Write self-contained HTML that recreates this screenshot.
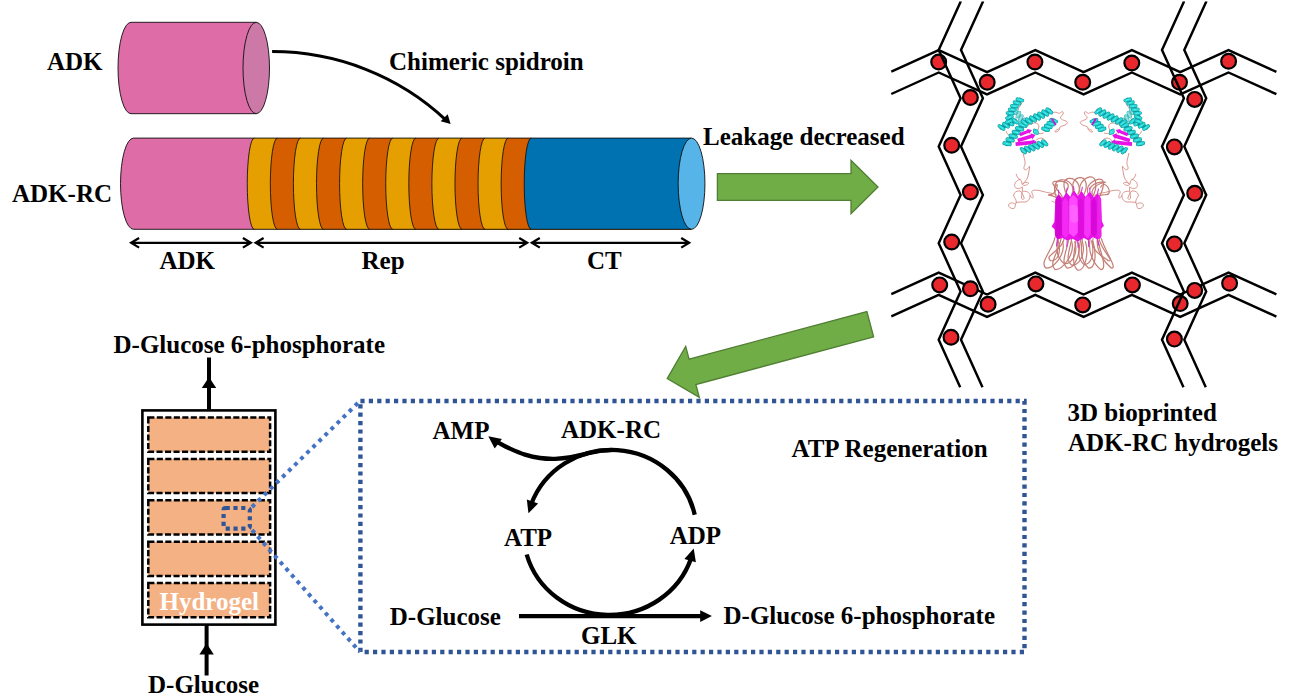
<!DOCTYPE html>
<html><head><meta charset="utf-8"><title>ADK-RC hydrogel ATP regeneration</title>
<style>
html,body{margin:0;padding:0;background:#fff;}
body{width:1299px;height:700px;overflow:hidden;}
svg{display:block;}
text{font-family:"Liberation Serif","Times New Roman",serif;font-weight:bold;}
</style></head><body>
<svg width="1299" height="700" viewBox="0 0 1299 700">
<rect width="1299" height="700" fill="#fff"/>
<path d="M131,22.299999999999997 L256.25,22.299999999999997 L256.25,113.7 L131,113.7 A13,45.7 0 0 1 131,22.299999999999997 Z" fill="#DD6CA7" stroke="#0d0d0d" stroke-width="0.9"/>
<ellipse cx="256.25" cy="68.0" rx="13.25" ry="45.7" fill="#CC79A7" stroke="#0d0d0d" stroke-width="0.9"/>
<path d="M133.5,138.1 L691.25,138.1 L691.25,229.29999999999998 L133.5,229.29999999999998 A13,45.6 0 0 1 133.5,138.1 Z" fill="#DD6CA7"/>
<path d="M254.25,138.1 L691.25,138.1 L691.25,229.29999999999998 L254.25,229.29999999999998 A7,45.6 0 0 1 254.25,138.1 Z" fill="#E69F00"/>
<path d="M254.25,229.29999999999998 A7,45.6 0 0 1 254.25,138.1" fill="none" stroke="#0d0d0d" stroke-width="0.85"/>
<path d="M277.33,138.1 L691.25,138.1 L691.25,229.29999999999998 L277.33,229.29999999999998 A7,45.6 0 0 1 277.33,138.1 Z" fill="#D55E00"/>
<path d="M277.33,229.29999999999998 A7,45.6 0 0 1 277.33,138.1" fill="none" stroke="#0d0d0d" stroke-width="0.85"/>
<path d="M300.40999999999997,138.1 L691.25,138.1 L691.25,229.29999999999998 L300.40999999999997,229.29999999999998 A7,45.6 0 0 1 300.40999999999997,138.1 Z" fill="#E69F00"/>
<path d="M300.40999999999997,229.29999999999998 A7,45.6 0 0 1 300.40999999999997,138.1" fill="none" stroke="#0d0d0d" stroke-width="0.85"/>
<path d="M323.49,138.1 L691.25,138.1 L691.25,229.29999999999998 L323.49,229.29999999999998 A7,45.6 0 0 1 323.49,138.1 Z" fill="#D55E00"/>
<path d="M323.49,229.29999999999998 A7,45.6 0 0 1 323.49,138.1" fill="none" stroke="#0d0d0d" stroke-width="0.85"/>
<path d="M346.57,138.1 L691.25,138.1 L691.25,229.29999999999998 L346.57,229.29999999999998 A7,45.6 0 0 1 346.57,138.1 Z" fill="#E69F00"/>
<path d="M346.57,229.29999999999998 A7,45.6 0 0 1 346.57,138.1" fill="none" stroke="#0d0d0d" stroke-width="0.85"/>
<path d="M369.65,138.1 L691.25,138.1 L691.25,229.29999999999998 L369.65,229.29999999999998 A7,45.6 0 0 1 369.65,138.1 Z" fill="#D55E00"/>
<path d="M369.65,229.29999999999998 A7,45.6 0 0 1 369.65,138.1" fill="none" stroke="#0d0d0d" stroke-width="0.85"/>
<path d="M392.73,138.1 L691.25,138.1 L691.25,229.29999999999998 L392.73,229.29999999999998 A7,45.6 0 0 1 392.73,138.1 Z" fill="#E69F00"/>
<path d="M392.73,229.29999999999998 A7,45.6 0 0 1 392.73,138.1" fill="none" stroke="#0d0d0d" stroke-width="0.85"/>
<path d="M415.81,138.1 L691.25,138.1 L691.25,229.29999999999998 L415.81,229.29999999999998 A7,45.6 0 0 1 415.81,138.1 Z" fill="#D55E00"/>
<path d="M415.81,229.29999999999998 A7,45.6 0 0 1 415.81,138.1" fill="none" stroke="#0d0d0d" stroke-width="0.85"/>
<path d="M438.89,138.1 L691.25,138.1 L691.25,229.29999999999998 L438.89,229.29999999999998 A7,45.6 0 0 1 438.89,138.1 Z" fill="#E69F00"/>
<path d="M438.89,229.29999999999998 A7,45.6 0 0 1 438.89,138.1" fill="none" stroke="#0d0d0d" stroke-width="0.85"/>
<path d="M461.96999999999997,138.1 L691.25,138.1 L691.25,229.29999999999998 L461.96999999999997,229.29999999999998 A7,45.6 0 0 1 461.96999999999997,138.1 Z" fill="#D55E00"/>
<path d="M461.96999999999997,229.29999999999998 A7,45.6 0 0 1 461.96999999999997,138.1" fill="none" stroke="#0d0d0d" stroke-width="0.85"/>
<path d="M485.04999999999995,138.1 L691.25,138.1 L691.25,229.29999999999998 L485.04999999999995,229.29999999999998 A7,45.6 0 0 1 485.04999999999995,138.1 Z" fill="#E69F00"/>
<path d="M485.04999999999995,229.29999999999998 A7,45.6 0 0 1 485.04999999999995,138.1" fill="none" stroke="#0d0d0d" stroke-width="0.85"/>
<path d="M508.13,138.1 L691.25,138.1 L691.25,229.29999999999998 L508.13,229.29999999999998 A7,45.6 0 0 1 508.13,138.1 Z" fill="#D55E00"/>
<path d="M508.13,229.29999999999998 A7,45.6 0 0 1 508.13,138.1" fill="none" stroke="#0d0d0d" stroke-width="0.85"/>
<path d="M531.21,138.1 L691.25,138.1 L691.25,229.29999999999998 L531.21,229.29999999999998 A7,45.6 0 0 1 531.21,138.1 Z" fill="#0072B2"/>
<path d="M531.21,229.29999999999998 A7,45.6 0 0 1 531.21,138.1" fill="none" stroke="#0d0d0d" stroke-width="0.85"/>
<path d="M691.25,138.1 L133.5,138.1 A13,45.6 0 0 0 133.5,229.29999999999998 L691.25,229.29999999999998" fill="none" stroke="#0d0d0d" stroke-width="0.9"/>
<ellipse cx="691.55" cy="183.7" rx="13.4" ry="45.6" fill="#56B4E9" stroke="#0d0d0d" stroke-width="0.9"/>
<path d="M131.1,242.8 L250.9,242.8 M139.1,238.0 L131.1,242.8 L139.1,247.60000000000002 M242.9,238.0 L250.9,242.8 L242.9,247.60000000000002" fill="none" stroke="#000" stroke-width="2.2" stroke-linejoin="miter"/>
<path d="M255.6,242.8 L527.1999999999999,242.8 M263.6,238.0 L255.6,242.8 L263.6,247.60000000000002 M519.1999999999999,238.0 L527.1999999999999,242.8 L519.1999999999999,247.60000000000002" fill="none" stroke="#000" stroke-width="2.2" stroke-linejoin="miter"/>
<path d="M531.8000000000001,242.8 L689.1999999999999,242.8 M539.8000000000001,238.0 L531.8000000000001,242.8 L539.8000000000001,247.60000000000002 M681.1999999999999,238.0 L689.1999999999999,242.8 L681.1999999999999,247.60000000000002" fill="none" stroke="#000" stroke-width="2.2" stroke-linejoin="miter"/>
<path d="M272.1,51.6 A250,243 0 0 1 445.7,119.8" fill="none" stroke="#000" stroke-width="3"/>
<path d="M450.6,124.1 L440.7,121.3 L447.7,114.2 Z" fill="#000"/>
<polygon points="717.4,173.6 851.0,173.6 851.0,160.2 878.0,187.0 851.0,213.8 851.0,200.4 717.4,200.4" fill="#70AD47" stroke="#507E32" stroke-width="1.3" stroke-linejoin="miter"/>
<polygon points="873.6,336.9 695.9,384.5 699.3,397.3 667.2,378.6 685.7,346.4 689.1,359.2 866.9,311.6" fill="#70AD47" stroke="#507E32" stroke-width="1.3" stroke-linejoin="miter"/>
<polyline points="891.3,71.7 938.7,50.2 987.0,72.1 1035.3,50.2 1083.6,72.1 1131.9,50.2 1180.2,72.1 1228.5,50.2 1276.4,71.9" fill="none" stroke="#000" stroke-width="2.45" stroke-linejoin="miter"/>
<polyline points="891.3,94.0 938.7,72.5 987.0,94.4 1035.3,72.5 1083.6,94.4 1131.9,72.5 1180.2,94.4 1228.5,72.5 1276.4,94.2" fill="none" stroke="#000" stroke-width="2.45" stroke-linejoin="miter"/>
<polyline points="891.3,294.1 938.7,272.6 987.0,294.5 1035.3,272.6 1083.6,294.5 1131.9,272.6 1180.2,294.5 1228.5,272.6 1276.4,294.3" fill="none" stroke="#000" stroke-width="2.45" stroke-linejoin="miter"/>
<polyline points="891.3,316.4 938.7,294.9 987.0,316.8 1035.3,294.9 1083.6,316.8 1131.9,294.9 1180.2,316.8 1228.5,294.9 1276.4,316.6" fill="none" stroke="#000" stroke-width="2.45" stroke-linejoin="miter"/>
<circle cx="938.7" cy="62" r="7.4" fill="#E8282C" stroke="#000" stroke-width="2.2"/>
<circle cx="987.2" cy="82.3" r="7.4" fill="#E8282C" stroke="#000" stroke-width="2.2"/>
<circle cx="1034.9" cy="62" r="7.4" fill="#E8282C" stroke="#000" stroke-width="2.2"/>
<circle cx="1082.7" cy="82.3" r="7.4" fill="#E8282C" stroke="#000" stroke-width="2.2"/>
<circle cx="1131.8" cy="63" r="7.4" fill="#E8282C" stroke="#000" stroke-width="2.2"/>
<circle cx="1179.5" cy="82.3" r="7.4" fill="#E8282C" stroke="#000" stroke-width="2.2"/>
<circle cx="1228.6" cy="61.3" r="7.4" fill="#E8282C" stroke="#000" stroke-width="2.2"/>
<circle cx="939.7" cy="284.9" r="7.4" fill="#E8282C" stroke="#000" stroke-width="2.2"/>
<circle cx="988.1" cy="304.3" r="7.4" fill="#E8282C" stroke="#000" stroke-width="2.2"/>
<circle cx="1035.9" cy="283.9" r="7.4" fill="#E8282C" stroke="#000" stroke-width="2.2"/>
<circle cx="1082.7" cy="304.9" r="7.4" fill="#E8282C" stroke="#000" stroke-width="2.2"/>
<circle cx="1132.4" cy="284.9" r="7.4" fill="#E8282C" stroke="#000" stroke-width="2.2"/>
<circle cx="1180.2" cy="303.6" r="7.4" fill="#E8282C" stroke="#000" stroke-width="2.2"/>
<circle cx="1229.6" cy="283.3" r="7.4" fill="#E8282C" stroke="#000" stroke-width="2.2"/>
<polyline points="960.6,1.6 960.6,1.7 938.7,50.0 960.6,98.3 938.7,146.6 960.6,194.9 938.7,243.2 960.6,291.5 938.7,339.8 960.2,387.3" fill="none" stroke="#000" stroke-width="2.45" stroke-linejoin="miter"/>
<polyline points="982.9,1.6 982.9,1.7 961.0,50.0 982.9,98.3 961.0,146.6 982.9,194.9 961.0,243.2 982.9,291.5 961.0,339.8 982.5,387.3" fill="none" stroke="#000" stroke-width="2.45" stroke-linejoin="miter"/>
<polyline points="1183.9,1.6 1183.9,1.7 1162.0,50.0 1183.9,98.3 1162.0,146.6 1183.9,194.9 1162.0,243.2 1183.9,291.5 1162.0,339.8 1183.5,387.3" fill="none" stroke="#000" stroke-width="2.45" stroke-linejoin="miter"/>
<polyline points="1206.2,1.6 1206.2,1.7 1184.3,50.0 1206.2,98.3 1184.3,146.6 1206.2,194.9 1184.3,243.2 1206.2,291.5 1184.3,339.8 1205.8,387.3" fill="none" stroke="#000" stroke-width="2.45" stroke-linejoin="miter"/>
<circle cx="970.4" cy="97.5" r="7.4" fill="#E8282C" stroke="#000" stroke-width="2.2"/>
<circle cx="951.7" cy="145.3" r="7.4" fill="#E8282C" stroke="#000" stroke-width="2.2"/>
<circle cx="970.4" cy="192" r="7.4" fill="#E8282C" stroke="#000" stroke-width="2.2"/>
<circle cx="951.7" cy="242" r="7.4" fill="#E8282C" stroke="#000" stroke-width="2.2"/>
<circle cx="970.4" cy="288.8" r="7.4" fill="#E8282C" stroke="#000" stroke-width="2.2"/>
<circle cx="951" cy="337.2" r="7.4" fill="#E8282C" stroke="#000" stroke-width="2.2"/>
<circle cx="1194.7" cy="99.4" r="7.4" fill="#E8282C" stroke="#000" stroke-width="2.2"/>
<circle cx="1174.4" cy="146.9" r="7.4" fill="#E8282C" stroke="#000" stroke-width="2.2"/>
<circle cx="1194.7" cy="193.3" r="7.4" fill="#E8282C" stroke="#000" stroke-width="2.2"/>
<circle cx="1174.4" cy="243.9" r="7.4" fill="#E8282C" stroke="#000" stroke-width="2.2"/>
<circle cx="1194.7" cy="290.4" r="7.4" fill="#E8282C" stroke="#000" stroke-width="2.2"/>
<circle cx="1174.4" cy="339.1" r="7.4" fill="#E8282C" stroke="#000" stroke-width="2.2"/>
<g transform="translate(995,95) scale(0.0928)"><path d="M600,200 C630,180 660,180 690,200 C710,190 725,170 735,185 C745,215 700,225 705,250 C730,280 785,275 780,300 C770,330 720,330 700,345 C700,380 670,400 650,400 C640,385 670,370 690,365" fill="none" stroke="#D68F88" stroke-width="10" stroke-linecap="round" stroke-linejoin="round"/><path d="M330,330 C380,320 420,290 450,305 C490,325 470,360 450,400 C470,420 500,420 520,410" fill="none" stroke="#D68F88" stroke-width="10" stroke-linecap="round" stroke-linejoin="round"/><path d="M440,490 C470,455 520,455 540,490" fill="none" stroke="#D68F88" stroke-width="10" stroke-linecap="round" stroke-linejoin="round"/><path d="M120,390 C130,420 150,445 195,455" fill="none" stroke="#D68F88" stroke-width="10" stroke-linecap="round" stroke-linejoin="round"/><path d="M240,160 C260,130 280,110 290,80" fill="none" stroke="#D68F88" stroke-width="10" stroke-linecap="round" stroke-linejoin="round"/><path d="M225,175 L305,285" fill="none" stroke="#4FB8BA" stroke-width="45" stroke-linecap="round" stroke-linejoin="round"/><path d="M237,153 L213,197 M263,189 L240,234 M290,226 L267,271 M317,263 L293,307" fill="none" stroke="#4FB8BA" stroke-width="38" stroke-linecap="round"/><path d="M237,153 L213,197 M263,189 L240,234 M290,226 L267,271 M317,263 L293,307" fill="none" stroke="#86DCDC" stroke-width="25" stroke-linecap="round"/><path d="M228,168 L219,186 M255,205 L246,223 M282,242 L273,259 M308,278 L299,296" fill="none" stroke="#B0ECEC" stroke-width="7" stroke-linecap="round"/><path d="M70,350 L140,315 L215,280" fill="none" stroke="#109C9E" stroke-width="49" stroke-linecap="round" stroke-linejoin="round"/><path d="M48,334 L92,366 M96,310 L140,342 M145,286 L188,319 M194,263 L236,297" fill="none" stroke="#109C9E" stroke-width="40" stroke-linecap="round"/><path d="M48,334 L92,366 M96,310 L140,342 M145,286 L188,319 M194,263 L236,297" fill="none" stroke="#27DADA" stroke-width="27" stroke-linecap="round"/><path d="M64,345 L81,358 M112,321 L129,334 M160,298 L177,311 M209,275 L226,288" fill="none" stroke="#6FF2F2" stroke-width="8" stroke-linecap="round"/><path d="M150,285 L160,200 L215,110 L268,52" fill="none" stroke="#109C9E" stroke-width="49" stroke-linecap="round" stroke-linejoin="round"/><path d="M125,294 L175,276 M130,250 L181,231 M135,194 L189,199 M159,156 L213,160 M182,117 L236,122 M212,78 L264,93 M242,45 L294,59" fill="none" stroke="#109C9E" stroke-width="40" stroke-linecap="round"/><path d="M125,294 L175,276 M130,250 L181,231 M135,194 L189,199 M159,156 L213,160 M182,117 L236,122 M212,78 L264,93 M242,45 L294,59" fill="none" stroke="#27DADA" stroke-width="27" stroke-linecap="round"/><path d="M142,288 L163,280 M148,243 L168,236 M154,196 L176,197 M178,157 L199,159 M201,119 L223,121 M230,83 L251,89 M260,50 L281,56" fill="none" stroke="#6FF2F2" stroke-width="8" stroke-linecap="round"/><path d="M130,525 L215,420 L300,325" fill="none" stroke="#109C9E" stroke-width="52" stroke-linecap="round" stroke-linejoin="round"/><path d="M102,519 L158,531 M135,478 L191,490 M168,437 L224,450 M202,396 L258,411 M237,357 L293,372 M272,317 L328,333" fill="none" stroke="#109C9E" stroke-width="44" stroke-linecap="round"/><path d="M102,519 L158,531 M135,478 L191,490 M168,437 L224,450 M202,396 L258,411 M237,357 L293,372 M272,317 L328,333" fill="none" stroke="#27DADA" stroke-width="29" stroke-linecap="round"/><path d="M122,523 L144,528 M155,482 L177,487 M188,441 L210,446 M222,401 L244,407 M257,362 L279,368 M292,323 L314,329" fill="none" stroke="#6FF2F2" stroke-width="8" stroke-linecap="round"/><path d="M320,300 L400,262 L500,215 L585,172" fill="none" stroke="#109C9E" stroke-width="50" stroke-linecap="round" stroke-linejoin="round"/><path d="M298,283 L342,317 M342,262 L386,296 M387,241 L431,275 M431,220 L475,254 M475,199 L519,234 M519,177 L564,211 M563,155 L607,189" fill="none" stroke="#109C9E" stroke-width="42" stroke-linecap="round"/><path d="M298,283 L342,317 M342,262 L386,296 M387,241 L431,275 M431,220 L475,254 M475,199 L519,234 M519,177 L564,211 M563,155 L607,189" fill="none" stroke="#27DADA" stroke-width="28" stroke-linecap="round"/><path d="M313,295 L331,309 M358,274 L375,288 M402,253 L420,267 M446,232 L464,246 M491,211 L508,225 M534,189 L552,202 M578,167 L596,180" fill="none" stroke="#6FF2F2" stroke-width="8" stroke-linecap="round"/><path d="M545,370 L632,278" fill="none" stroke="#109C9E" stroke-width="50" stroke-linecap="round" stroke-linejoin="round"/><path d="M518,362 L572,378 M547,331 L601,347 M576,301 L630,317 M605,270 L659,286" fill="none" stroke="#109C9E" stroke-width="42" stroke-linecap="round"/><path d="M518,362 L572,378 M547,331 L601,347 M576,301 L630,317 M605,270 L659,286" fill="none" stroke="#27DADA" stroke-width="28" stroke-linecap="round"/><path d="M537,368 L558,374 M566,337 L587,343 M595,306 L616,313 M624,276 L645,282" fill="none" stroke="#6FF2F2" stroke-width="8" stroke-linecap="round"/><path d="M425,392 L455,402" fill="none" stroke="#109C9E" stroke-width="31" stroke-linecap="round" stroke-linejoin="round"/><path d="M423,375 L427,409 M438,380 L442,414 M453,385 L457,419" fill="none" stroke="#109C9E" stroke-width="26" stroke-linecap="round"/><path d="M423,375 L427,409 M438,380 L442,414 M453,385 L457,419" fill="none" stroke="#27DADA" stroke-width="17" stroke-linecap="round"/><path d="M424,387 L426,400 M439,392 L441,405 M454,397 L456,410" fill="none" stroke="#6FF2F2" stroke-width="5" stroke-linecap="round"/><polygon points="224,550 409,531 411,544 452,506 404,477 405,491 220,510" fill="#E612E6"/><polygon points="251,509 399,464 403,478 436,432 383,413 387,426 239,471" fill="#E612E6"/><polygon points="274,444 363,408 367,420 398,376 345,366 350,377 262,412" fill="#E612E6"/><polygon points="663,320 630,268 635,265 605,245 610,281 615,278 647,330" fill="#D010D0"/><path d="M305,600 L420,560 L535,515" fill="none" stroke="#109C9E" stroke-width="49" stroke-linecap="round" stroke-linejoin="round"/><path d="M286,581 L324,619 M332,565 L371,603 M378,549 L417,587 M424,533 L464,569 M469,515 L509,551 M515,497 L555,533" fill="none" stroke="#109C9E" stroke-width="40" stroke-linecap="round"/><path d="M286,581 L324,619 M332,565 L371,603 M378,549 L417,587 M424,533 L464,569 M469,515 L509,551 M515,497 L555,533" fill="none" stroke="#27DADA" stroke-width="27" stroke-linecap="round"/><path d="M299,594 L315,609 M346,578 L361,593 M392,562 L407,577 M438,545 L454,560 M483,527 L499,542 M529,510 L545,524" fill="none" stroke="#6FF2F2" stroke-width="8" stroke-linecap="round"/></g>
<g transform="translate(1152.6,95) scale(-0.0928,0.0928)"><path d="M600,200 C630,180 660,180 690,200 C710,190 725,170 735,185 C745,215 700,225 705,250 C730,280 785,275 780,300 C770,330 720,330 700,345 C700,380 670,400 650,400 C640,385 670,370 690,365" fill="none" stroke="#D68F88" stroke-width="10" stroke-linecap="round" stroke-linejoin="round"/><path d="M330,330 C380,320 420,290 450,305 C490,325 470,360 450,400 C470,420 500,420 520,410" fill="none" stroke="#D68F88" stroke-width="10" stroke-linecap="round" stroke-linejoin="round"/><path d="M440,490 C470,455 520,455 540,490" fill="none" stroke="#D68F88" stroke-width="10" stroke-linecap="round" stroke-linejoin="round"/><path d="M120,390 C130,420 150,445 195,455" fill="none" stroke="#D68F88" stroke-width="10" stroke-linecap="round" stroke-linejoin="round"/><path d="M240,160 C260,130 280,110 290,80" fill="none" stroke="#D68F88" stroke-width="10" stroke-linecap="round" stroke-linejoin="round"/><path d="M225,175 L305,285" fill="none" stroke="#4FB8BA" stroke-width="45" stroke-linecap="round" stroke-linejoin="round"/><path d="M237,153 L213,197 M263,189 L240,234 M290,226 L267,271 M317,263 L293,307" fill="none" stroke="#4FB8BA" stroke-width="38" stroke-linecap="round"/><path d="M237,153 L213,197 M263,189 L240,234 M290,226 L267,271 M317,263 L293,307" fill="none" stroke="#86DCDC" stroke-width="25" stroke-linecap="round"/><path d="M228,168 L219,186 M255,205 L246,223 M282,242 L273,259 M308,278 L299,296" fill="none" stroke="#B0ECEC" stroke-width="7" stroke-linecap="round"/><path d="M70,350 L140,315 L215,280" fill="none" stroke="#109C9E" stroke-width="49" stroke-linecap="round" stroke-linejoin="round"/><path d="M48,334 L92,366 M96,310 L140,342 M145,286 L188,319 M194,263 L236,297" fill="none" stroke="#109C9E" stroke-width="40" stroke-linecap="round"/><path d="M48,334 L92,366 M96,310 L140,342 M145,286 L188,319 M194,263 L236,297" fill="none" stroke="#27DADA" stroke-width="27" stroke-linecap="round"/><path d="M64,345 L81,358 M112,321 L129,334 M160,298 L177,311 M209,275 L226,288" fill="none" stroke="#6FF2F2" stroke-width="8" stroke-linecap="round"/><path d="M150,285 L160,200 L215,110 L268,52" fill="none" stroke="#109C9E" stroke-width="49" stroke-linecap="round" stroke-linejoin="round"/><path d="M125,294 L175,276 M130,250 L181,231 M135,194 L189,199 M159,156 L213,160 M182,117 L236,122 M212,78 L264,93 M242,45 L294,59" fill="none" stroke="#109C9E" stroke-width="40" stroke-linecap="round"/><path d="M125,294 L175,276 M130,250 L181,231 M135,194 L189,199 M159,156 L213,160 M182,117 L236,122 M212,78 L264,93 M242,45 L294,59" fill="none" stroke="#27DADA" stroke-width="27" stroke-linecap="round"/><path d="M142,288 L163,280 M148,243 L168,236 M154,196 L176,197 M178,157 L199,159 M201,119 L223,121 M230,83 L251,89 M260,50 L281,56" fill="none" stroke="#6FF2F2" stroke-width="8" stroke-linecap="round"/><path d="M130,525 L215,420 L300,325" fill="none" stroke="#109C9E" stroke-width="52" stroke-linecap="round" stroke-linejoin="round"/><path d="M102,519 L158,531 M135,478 L191,490 M168,437 L224,450 M202,396 L258,411 M237,357 L293,372 M272,317 L328,333" fill="none" stroke="#109C9E" stroke-width="44" stroke-linecap="round"/><path d="M102,519 L158,531 M135,478 L191,490 M168,437 L224,450 M202,396 L258,411 M237,357 L293,372 M272,317 L328,333" fill="none" stroke="#27DADA" stroke-width="29" stroke-linecap="round"/><path d="M122,523 L144,528 M155,482 L177,487 M188,441 L210,446 M222,401 L244,407 M257,362 L279,368 M292,323 L314,329" fill="none" stroke="#6FF2F2" stroke-width="8" stroke-linecap="round"/><path d="M320,300 L400,262 L500,215 L585,172" fill="none" stroke="#109C9E" stroke-width="50" stroke-linecap="round" stroke-linejoin="round"/><path d="M298,283 L342,317 M342,262 L386,296 M387,241 L431,275 M431,220 L475,254 M475,199 L519,234 M519,177 L564,211 M563,155 L607,189" fill="none" stroke="#109C9E" stroke-width="42" stroke-linecap="round"/><path d="M298,283 L342,317 M342,262 L386,296 M387,241 L431,275 M431,220 L475,254 M475,199 L519,234 M519,177 L564,211 M563,155 L607,189" fill="none" stroke="#27DADA" stroke-width="28" stroke-linecap="round"/><path d="M313,295 L331,309 M358,274 L375,288 M402,253 L420,267 M446,232 L464,246 M491,211 L508,225 M534,189 L552,202 M578,167 L596,180" fill="none" stroke="#6FF2F2" stroke-width="8" stroke-linecap="round"/><path d="M545,370 L632,278" fill="none" stroke="#109C9E" stroke-width="50" stroke-linecap="round" stroke-linejoin="round"/><path d="M518,362 L572,378 M547,331 L601,347 M576,301 L630,317 M605,270 L659,286" fill="none" stroke="#109C9E" stroke-width="42" stroke-linecap="round"/><path d="M518,362 L572,378 M547,331 L601,347 M576,301 L630,317 M605,270 L659,286" fill="none" stroke="#27DADA" stroke-width="28" stroke-linecap="round"/><path d="M537,368 L558,374 M566,337 L587,343 M595,306 L616,313 M624,276 L645,282" fill="none" stroke="#6FF2F2" stroke-width="8" stroke-linecap="round"/><path d="M425,392 L455,402" fill="none" stroke="#109C9E" stroke-width="31" stroke-linecap="round" stroke-linejoin="round"/><path d="M423,375 L427,409 M438,380 L442,414 M453,385 L457,419" fill="none" stroke="#109C9E" stroke-width="26" stroke-linecap="round"/><path d="M423,375 L427,409 M438,380 L442,414 M453,385 L457,419" fill="none" stroke="#27DADA" stroke-width="17" stroke-linecap="round"/><path d="M424,387 L426,400 M439,392 L441,405 M454,397 L456,410" fill="none" stroke="#6FF2F2" stroke-width="5" stroke-linecap="round"/><polygon points="224,550 409,531 411,544 452,506 404,477 405,491 220,510" fill="#E612E6"/><polygon points="251,509 399,464 403,478 436,432 383,413 387,426 239,471" fill="#E612E6"/><polygon points="274,444 363,408 367,420 398,376 345,366 350,377 262,412" fill="#E612E6"/><polygon points="663,320 630,268 635,265 605,245 610,281 615,278 647,330" fill="#D010D0"/><path d="M305,600 L420,560 L535,515" fill="none" stroke="#109C9E" stroke-width="49" stroke-linecap="round" stroke-linejoin="round"/><path d="M286,581 L324,619 M332,565 L371,603 M378,549 L417,587 M424,533 L464,569 M469,515 L509,551 M515,497 L555,533" fill="none" stroke="#109C9E" stroke-width="40" stroke-linecap="round"/><path d="M286,581 L324,619 M332,565 L371,603 M378,549 L417,587 M424,533 L464,569 M469,515 L509,551 M515,497 L555,533" fill="none" stroke="#27DADA" stroke-width="27" stroke-linecap="round"/><path d="M299,594 L315,609 M346,578 L361,593 M392,562 L407,577 M438,545 L454,560 M483,527 L499,542 M529,510 L545,524" fill="none" stroke="#6FF2F2" stroke-width="8" stroke-linecap="round"/></g>
<g transform="translate(1000,145) scale(0.0928)"><path d="M250,90 C255,130 275,170 270,205 C262,230 250,245 262,262 C280,280 305,245 320,228 C318,270 305,310 300,345 C290,380 255,405 245,420 C260,400 300,395 308,410 C300,435 260,445 240,425 C230,405 240,385 215,370 C190,360 180,335 175,315" fill="none" stroke="#D68F88" stroke-width="10" stroke-linecap="round" stroke-linejoin="round"/><path d="M215,370 C175,380 150,415 160,450 C180,480 225,470 240,450 C245,480 235,520 232,560 C228,590 250,590 262,575 C250,540 235,510 215,495 C185,490 150,510 145,540 C160,580 180,590 175,620" fill="none" stroke="#D68F88" stroke-width="10" stroke-linecap="round" stroke-linejoin="round"/><path d="M245,500 C280,490 320,510 325,545 C320,590 300,610 270,615 C230,612 200,615 175,620 C160,640 170,670 150,685 C120,690 90,670 92,645 C100,620 140,615 160,635" fill="none" stroke="#D68F88" stroke-width="10" stroke-linecap="round" stroke-linejoin="round"/><path d="M325,545 C350,590 365,570 355,545 C345,520 330,495 360,488 C410,480 450,500 500,510 C550,520 590,520 620,545" fill="none" stroke="#D68F88" stroke-width="10" stroke-linecap="round" stroke-linejoin="round"/><path d="M560,605 C580,615 600,625 615,630" fill="none" stroke="#D68F88" stroke-width="10" stroke-linecap="round" stroke-linejoin="round"/></g>
<g transform="translate(1152,145) scale(-0.0928,0.0928)"><path d="M250,90 C255,130 275,170 270,205 C262,230 250,245 262,262 C280,280 305,245 320,228 C318,270 305,310 300,345 C290,380 255,405 245,420 C260,400 300,395 308,410 C300,435 260,445 240,425 C230,405 240,385 215,370 C190,360 180,335 175,315" fill="none" stroke="#D68F88" stroke-width="10" stroke-linecap="round" stroke-linejoin="round"/><path d="M215,370 C175,380 150,415 160,450 C180,480 225,470 240,450 C245,480 235,520 232,560 C228,590 250,590 262,575 C250,540 235,510 215,495 C185,490 150,510 145,540 C160,580 180,590 175,620" fill="none" stroke="#D68F88" stroke-width="10" stroke-linecap="round" stroke-linejoin="round"/><path d="M245,500 C280,490 320,510 325,545 C320,590 300,610 270,615 C230,612 200,615 175,620 C160,640 170,670 150,685 C120,690 90,670 92,645 C100,620 140,615 160,635" fill="none" stroke="#D68F88" stroke-width="10" stroke-linecap="round" stroke-linejoin="round"/><path d="M325,545 C350,590 365,570 355,545 C345,520 330,495 360,488 C410,480 450,500 500,510 C550,520 590,520 620,545" fill="none" stroke="#D68F88" stroke-width="10" stroke-linecap="round" stroke-linejoin="round"/><path d="M560,605 C580,615 600,625 615,630" fill="none" stroke="#D68F88" stroke-width="10" stroke-linecap="round" stroke-linejoin="round"/></g>
<g transform="translate(1032.2,172.5) scale(0.152,0.147)"><path d="M150,440 C135,530 45,610 90,650 C135,655 225,560 200,470" fill="none" stroke="#C47E76" stroke-width="8" stroke-linecap="round" stroke-linejoin="round"/><path d="M190,450 C175,540 105,620 150,660 C195,665 285,560 260,470" fill="none" stroke="#C47E76" stroke-width="8" stroke-linecap="round" stroke-linejoin="round"/><path d="M240,455 C225,545 185,610 230,650 C275,655 325,560 300,470" fill="none" stroke="#C47E76" stroke-width="8" stroke-linecap="round" stroke-linejoin="round"/><path d="M290,455 C275,545 255,625 300,665 C345,670 375,560 350,470" fill="none" stroke="#C47E76" stroke-width="8" stroke-linecap="round" stroke-linejoin="round"/><path d="M330,455 C315,545 325,610 370,650 C415,655 425,560 400,470" fill="none" stroke="#C47E76" stroke-width="8" stroke-linecap="round" stroke-linejoin="round"/><path d="M380,455 C365,545 405,620 450,660 C495,665 455,550 430,460" fill="none" stroke="#C47E76" stroke-width="8" stroke-linecap="round" stroke-linejoin="round"/><path d="M430,440 C415,530 475,610 520,650 C565,655 480,540 455,450" fill="none" stroke="#C47E76" stroke-width="8" stroke-linecap="round" stroke-linejoin="round"/><path d="M170,450 C155,540 165,580 210,620 C255,625 305,560 280,470" fill="none" stroke="#C47E76" stroke-width="8" stroke-linecap="round" stroke-linejoin="round"/><path d="M260,450 C245,540 215,590 260,630 C305,635 355,560 330,470" fill="none" stroke="#C47E76" stroke-width="8" stroke-linecap="round" stroke-linejoin="round"/><path d="M320,450 C305,540 295,585 340,625 C385,630 415,555 390,465" fill="none" stroke="#C47E76" stroke-width="8" stroke-linecap="round" stroke-linejoin="round"/><path d="M210,450 C195,540 75,560 120,600 C165,605 195,550 170,460" fill="none" stroke="#C47E76" stroke-width="8" stroke-linecap="round" stroke-linejoin="round"/><path d="M400,450 C385,540 455,560 500,600 C545,605 465,545 440,455" fill="none" stroke="#C47E76" stroke-width="8" stroke-linecap="round" stroke-linejoin="round"/><path d="M160,170 C135,110 145,60 190,50 C235,45 290,90 260,150" fill="none" stroke="#C47E76" stroke-width="8" stroke-linecap="round" stroke-linejoin="round"/><path d="M230,160 C205,100 195,50 240,40 C285,35 330,90 300,150" fill="none" stroke="#C47E76" stroke-width="8" stroke-linecap="round" stroke-linejoin="round"/><path d="M280,150 C255,90 265,45 310,35 C355,30 370,90 340,150" fill="none" stroke="#C47E76" stroke-width="8" stroke-linecap="round" stroke-linejoin="round"/><path d="M320,150 C295,90 335,40 380,30 C425,25 430,100 400,160" fill="none" stroke="#C47E76" stroke-width="8" stroke-linecap="round" stroke-linejoin="round"/><path d="M370,150 C345,90 395,55 440,45 C485,40 470,110 440,170" fill="none" stroke="#C47E76" stroke-width="8" stroke-linecap="round" stroke-linejoin="round"/><path d="M200,170 C175,110 105,70 150,60 C195,55 260,60 230,120" fill="none" stroke="#C47E76" stroke-width="8" stroke-linecap="round" stroke-linejoin="round"/><path d="M400,170 C375,110 425,80 470,70 C515,65 410,50 380,110" fill="none" stroke="#C47E76" stroke-width="8" stroke-linecap="round" stroke-linejoin="round"/><path d="M180,200 C155,140 75,160 120,150 C165,145 180,40 150,100" fill="none" stroke="#C47E76" stroke-width="8" stroke-linecap="round" stroke-linejoin="round"/><path d="M420,200 C395,140 445,160 490,150 C535,145 480,40 450,100" fill="none" stroke="#C47E76" stroke-width="8" stroke-linecap="round" stroke-linejoin="round"/><path d="M152,185 L175,150 L200,175 L225,135 L250,165 L275,120 L300,160 L325,125 L350,165 L380,130 L405,170 L430,140 L452,185 L458,330 L472,362 L452,385 L455,440 L430,455 L400,440 L370,462 L340,445 L300,470 L265,450 L230,462 L200,445 L165,455 L150,430 L148,388 L128,368 L146,335 Z" fill="#E614E6"/><path d="M154,180 L172,150 L193,180 L195,425 L176,455 L152,430 Z" fill="#D406D4"/><path d="M199,200 L218,170 L238,200 L240,417 L222,447 L197,422 Z" fill="#F22AF2"/><path d="M244,180 L270,150 L298,180 L300,409 L274,439 L242,414 Z" fill="#FF48FF"/><path d="M304,200 L320,170 L338,200 L340,425 L324,455 L302,430 Z" fill="#DE0EDE"/><path d="M344,180 L362,150 L383,180 L385,417 L366,447 L342,422 Z" fill="#F834F8"/><path d="M389,200 L405,170 L423,200 L425,409 L409,439 L387,414 Z" fill="#D808D8"/><path d="M429,180 L440,150 L454,180 L456,425 L444,455 L427,430 Z" fill="#EE22EE"/><path d="M245,230 C265,215 290,215 300,235 L303,330 C290,345 262,345 250,330 Z" fill="#FF6CFF" opacity="0.7"/><path d="M175,150 L172,120 M225,135 L230,105 M275,120 L272,95 M325,125 L330,100 M380,130 L378,105 M430,140 L436,112 M165,455 L160,500 M230,462 L228,505 M300,470 L302,510 M370,462 L372,505 M430,455 L440,495" fill="none" stroke="#D62AD6" stroke-width="7" stroke-linecap="round" stroke-linejoin="round"/></g>
<rect x="142.4" y="410.4" width="133" height="214.2" fill="#fff" stroke="#000" stroke-width="2.6"/>
<rect x="148.3" y="417.50" width="121.8" height="34.2" fill="#F4B183" stroke="#000" stroke-width="2.5" stroke-dasharray="6.1 2.4"/>
<rect x="148.3" y="458.90" width="121.8" height="34.2" fill="#F4B183" stroke="#000" stroke-width="2.5" stroke-dasharray="6.1 2.4"/>
<rect x="148.3" y="500.30" width="121.8" height="34.2" fill="#F4B183" stroke="#000" stroke-width="2.5" stroke-dasharray="6.1 2.4"/>
<rect x="148.3" y="541.70" width="121.8" height="34.2" fill="#F4B183" stroke="#000" stroke-width="2.5" stroke-dasharray="6.1 2.4"/>
<rect x="148.3" y="583.10" width="121.8" height="34.2" fill="#F4B183" stroke="#000" stroke-width="2.5" stroke-dasharray="6.1 2.4"/>
<path d="M209,357.5 L209,409.5" stroke="#000" stroke-width="4" fill="none"/>
<path d="M209,377 L216.2,388 L201.8,388 Z" fill="#000"/>
<path d="M206.6,625 L206.6,675.5" stroke="#000" stroke-width="4" fill="none"/>
<path d="M206.6,643.3 L213.8,654.5 L199.4,654.5 Z" fill="#000"/>
<rect x="360.4" y="401" width="664.1" height="251" fill="none" stroke="#2F5597" stroke-width="4.4" stroke-dasharray="4.2 4.2"/>
<rect x="223.6" y="508" width="26.2" height="20.6" rx="2" fill="none" stroke="#2F5597" stroke-width="4.2" stroke-dasharray="4.2 3.6"/>
<path d="M252,507 L360,401" fill="none" stroke="#4472C4" stroke-width="4" stroke-dasharray="3.9 4.6"/>
<path d="M252,530 L360,652" fill="none" stroke="#4472C4" stroke-width="4" stroke-dasharray="3.9 4.6"/>
<path d="M694.7,514.8 A85.2,82 0 0 0 531.3,504.0" fill="none" stroke="#000" stroke-width="4.3"/>
<path d="M528.5,513.3 L526.8,499.5 L538.1,503.4 Z" fill="#000"/>
<path d="M526.7,554.5 A86,82.8 0 0 0 691.1,558.3" fill="none" stroke="#000" stroke-width="4.3"/>
<path d="M693.7,548.6 L695.9,562.3 L684.4,558.9 Z" fill="#000"/>
<path d="M519,616.1 L702,616.1" fill="none" stroke="#000" stroke-width="4.3"/>
<path d="M711.9,616.1 L700.2,610.2 L700.2,622 Z" fill="#000"/>
<path d="M612,450.0 C610.0,450.1 604.2,450.2 600,450.8 C595.8,451.4 591.8,452.5 587,453.6 C582.2,454.7 576.3,456.3 571,457.2 C565.7,458.1 560.2,458.7 555,458.8 C549.8,458.9 545.0,458.7 540,458.0 C535.0,457.3 530.0,456.2 525,454.6 C520.0,453.0 514.7,450.7 510,448.6 C505.3,446.5 499.2,442.9 497,441.8" fill="none" stroke="#000" stroke-width="4.3"/>
<path d="M488.3,436.2 L501.9,438.9 L494.7,448.5 Z" fill="#000"/>
<text x="47" y="69.5" fill="#000" font-size="25" text-anchor="start">ADK</text>
<text x="12" y="201.5" fill="#000" font-size="25" text-anchor="start">ADK-RC</text>
<text x="159.5" y="269" fill="#000" font-size="25" text-anchor="start">ADK</text>
<text x="361.5" y="269" fill="#000" font-size="25" text-anchor="start">Rep</text>
<text x="587" y="269" fill="#000" font-size="25" text-anchor="start">CT</text>
<text x="389" y="70.3" fill="#000" font-size="25" text-anchor="start">Chimeric spidroin</text>
<text x="703" y="145.4" fill="#000" font-size="25" text-anchor="start">Leakage decreased</text>
<text x="113.5" y="352.5" fill="#000" font-size="25" text-anchor="start">D-Glucose 6-phosphorate</text>
<text x="159.5" y="609.7" fill="#fff" font-size="25" text-anchor="start">Hydrogel</text>
<text x="148" y="693.1" fill="#000" font-size="25" text-anchor="start">D-Glucose</text>
<text x="432.5" y="438.8" fill="#000" font-size="25" text-anchor="start">AMP</text>
<text x="561" y="437.8" fill="#000" font-size="25" text-anchor="start">ADK-RC</text>
<text x="504" y="545.9" fill="#000" font-size="25" text-anchor="start">ATP</text>
<text x="669.7" y="543.7" fill="#000" font-size="25" text-anchor="start">ADP</text>
<text x="389.8" y="625.4" fill="#000" font-size="25" text-anchor="start">D-Glucose</text>
<text x="581" y="643.8" fill="#000" font-size="25" text-anchor="start">GLK</text>
<text x="723.5" y="623.9" fill="#000" font-size="25" text-anchor="start">D-Glucose 6-phosphorate</text>
<text x="791.5" y="456.7" fill="#000" font-size="25" text-anchor="start">ATP Regeneration</text>
<text x="1067.5" y="421" fill="#000" font-size="25" text-anchor="start">3D bioprinted</text>
<text x="1068" y="451.4" fill="#000" font-size="25" text-anchor="start">ADK-RC hydrogels</text>
</svg>
</body></html>
